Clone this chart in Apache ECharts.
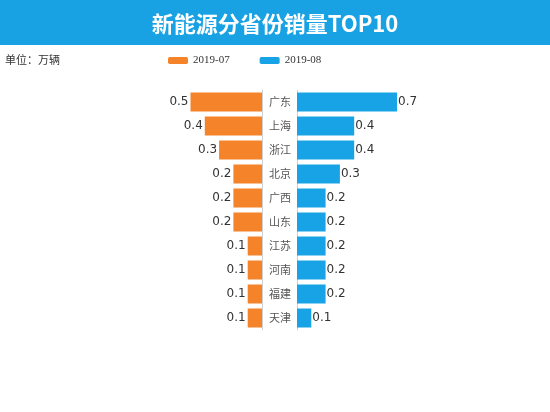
<!DOCTYPE html>
<html lang="zh">
<head>
    <meta charset="UTF-8">
    <title>新能源分省份销量TOP10</title>
    <script src="https://cdn.jsdelivr.net/npm/echarts@6/dist/echarts.min.js"></script>
    <style>
        html, body { margin: 0; padding: 0; background: #fff; }
        #main { width: 550px; height: 412px; }
    </style>
</head>
<body>
<div id="main"></div>
<script>
    var provinces = ['广东', '上海', '浙江', '北京', '广西', '山东', '江苏', '河南', '福建', '天津'];
    var legendData = ['2019-07', '2019-08'];
    var julData = [0.5, 0.4, 0.3, 0.2, 0.2, 0.2, 0.1, 0.1, 0.1, 0.1];
    var augData = [0.7, 0.4, 0.4, 0.3, 0.2, 0.2, 0.2, 0.2, 0.2, 0.1];

    var orange = '#f5832a';
    var blue = '#17a3e6';
    var labelFont = 'DejaVu Sans, Noto Sans, sans-serif';

    var myChart = echarts.init(document.getElementById('main'));

    var option = {
        animation: false,
        graphic: [{
            type: 'rect',
            left: 0,
            top: 0,
            z: 0,
            shape: { width: 550, height: 45 },
            style: { fill: '#18a2e3' }
        }],
        title: [{
            text: '新能源分省份销量TOP10',
            left: 'center',
            top: 8,
            textStyle: {
                color: '#fff',
                fontSize: 22,
                fontWeight: 'bold',
                fontFamily: 'Noto Sans CJK SC, sans-serif'
            }
        }, {
            text: '单位：万辆',
            left: 0,
            top: 49,
            textStyle: {
                color: '#333',
                fontSize: 11,
                fontWeight: 'normal',
                fontFamily: 'Noto Sans CJK SC, sans-serif'
            }
        }],
        legend: {
            left: 163,
            top: 50,
            itemWidth: 20,
            itemHeight: 7,
            itemGap: 30,
            icon: 'roundRect',
            data: legendData,
            textStyle: {
                color: '#333',
                fontSize: 11,
                fontFamily: 'Liberation Serif, serif'
            }
        },
        grid: [{
            left: 119,
            top: 90,
            width: 143,
            height: 240
        }, {
            left: 297,
            top: 90,
            width: 143,
            height: 240
        }],
        xAxis: [{
            gridIndex: 0,
            type: 'value',
            min: 0,
            max: 1,
            inverse: true,
            show: false
        }, {
            gridIndex: 1,
            type: 'value',
            min: 0,
            max: 1,
            show: false
        }],
        yAxis: [{
            gridIndex: 0,
            type: 'category',
            position: 'right',
            inverse: true,
            data: provinces,
            axisLine: { lineStyle: { color: '#d0d0d0' } },
            axisTick: { show: false },
            axisLabel: {
                align: 'center',
                margin: 18,
                color: '#555',
                fontSize: 11,
                fontFamily: 'Noto Sans CJK SC, sans-serif'
            }
        }, {
            gridIndex: 1,
            type: 'category',
            position: 'left',
            inverse: true,
            data: provinces,
            axisLine: { lineStyle: { color: '#d0d0d0' } },
            axisTick: { show: false },
            axisLabel: { show: false }
        }],
        series: [{
            name: legendData[0],
            type: 'bar',
            xAxisIndex: 0,
            yAxisIndex: 0,
            barWidth: 19,
            data: julData,
            itemStyle: { color: orange },
            label: {
                show: true,
                position: 'left',
                distance: 2,
                color: '#333',
                fontSize: 12,
                fontFamily: labelFont
            }
        }, {
            name: legendData[1],
            type: 'bar',
            xAxisIndex: 1,
            yAxisIndex: 1,
            barWidth: 19,
            data: augData,
            itemStyle: { color: blue },
            label: {
                show: true,
                position: 'right',
                distance: 1,
                color: '#333',
                fontSize: 12,
                fontFamily: labelFont
            }
        }]
    };

    myChart.setOption(option);
</script>
</body>
</html>
